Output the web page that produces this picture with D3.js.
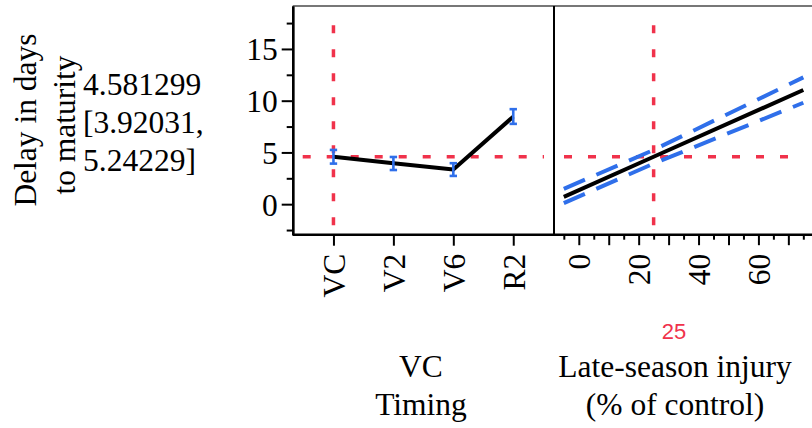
<!DOCTYPE html>
<html>
<head>
<meta charset="utf-8">
<script src="https://cdn.jsdelivr.net/npm/d3@7/dist/d3.min.js"></script>
<style>
  html, body { margin: 0; padding: 0; background: #fff; }
  svg { display: block; }
  text { font-family: "Liberation Serif", "Times New Roman", serif; }
</style>
</head>
<body>
<svg id="chart" width="812" height="428"></svg>
<script>
// Prediction profiler: delay in days to maturity by injury timing and late-season injury level

// Factor 1: injury timing (categorical)
const timing = ["VC", "V2", "V6", "R2"];
const timingDelay = [4.581299, 3.95, 3.34, 8.46];
const timingLower = [3.92031, 3.30, 2.73, 7.76];
const timingUpper = [5.24229, 4.56, 3.96, 9.18];

// Factor 2: late-season injury (% of control), fitted line with confidence band
const injury = [-5, 25, 75];
const injuryDelay = [0.71, 4.581299, 11.03];
const injuryLower = [0.10, 3.92031, 9.80];
const injuryUpper = [1.48, 5.24229, 12.25];

// Current settings and predicted response
const currentTiming = "VC";
const currentInjury = 25;
const currentValue = 4.581299;
const currentCI = [3.92031, 5.24229];

// Axis ticks
const yMajorTicks = [0, 5, 10, 15];
const yMinorTicks = [-2.5, 2.5, 7.5, 12.5, 17.5];
const injuryLabelTicks = [0, 20, 40, 60];
const injuryMajorTicks = [0, 10, 20, 30, 40, 50, 60, 70];
const injuryMinorTicks = [-5, 5, 15, 25, 35, 45, 55, 65, 75];

const RED = "#f0324b";
const BLUE = "#2f6fea";
const FONT = 31.5;

const svg = d3.select("#chart");

const plotTop = 6, plotBottom = 234.7;
const p1 = { left: 292.7, right: 554 };
const p2 = { left: 554, right: 813.5 };

const y = d3.scaleLinear().domain([-2.95, 19.15]).range([plotBottom, plotTop]);
const xT = d3.scalePoint().domain(timing).range([p1.left, p1.right]).padding(0.68);
const xI = d3.scaleLinear().domain([-8.28, 78.4]).range([p2.left, p2.right]);

// ----- reference lines at the current settings -----
function refLines(left, right, xPos) {
  svg.append("line")
    .attr("x1", left + 10).attr("x2", right - 10)
    .attr("y1", y(currentValue)).attr("y2", y(currentValue))
    .attr("stroke", RED).attr("stroke-width", 3.5).attr("stroke-dasharray", "8,16");
  svg.append("line")
    .attr("x1", xPos).attr("x2", xPos)
    .attr("y1", plotBottom - 9.5).attr("y2", plotTop + 11)
    .attr("stroke", RED).attr("stroke-width", 3.5).attr("stroke-dasharray", "8,16");
}
refLines(p1.left, p1.right, xT(currentTiming));
refLines(p2.left, p2.right, xI(currentInjury));

// ----- panel 1: timing profile -----
const timingData = timing.map((t, i) => ({ t, v: timingDelay[i], lo: timingLower[i], hi: timingUpper[i] }));

svg.append("path")
  .datum(timingData)
  .attr("fill", "none").attr("stroke", "#000").attr("stroke-width", 4)
  .attr("stroke-linejoin", "round")
  .attr("d", d3.line().x(d => xT(d.t)).y(d => y(d.v)));

const bars = svg.append("g").attr("stroke", BLUE).attr("stroke-width", 2.6);
timingData.forEach(d => {
  const cx = xT(d.t);
  bars.append("line").attr("x1", cx).attr("x2", cx).attr("y1", y(d.lo)).attr("y2", y(d.hi));
  bars.append("line").attr("x1", cx - 3.7).attr("x2", cx + 3.7).attr("y1", y(d.lo)).attr("y2", y(d.lo));
  bars.append("line").attr("x1", cx - 3.7).attr("x2", cx + 3.7).attr("y1", y(d.hi)).attr("y2", y(d.hi));
});

// ----- panel 2: late-season injury profile -----
const injData = injury.map((x, i) => ({ x, v: injuryDelay[i], lo: injuryLower[i], hi: injuryUpper[i] }));

["lo", "hi"].forEach(k => {
  svg.append("path")
    .datum(injData)
    .attr("fill", "none").attr("stroke", BLUE).attr("stroke-width", 4)
    .attr("stroke-dasharray", "23,12.5")
    .attr("d", d3.line().x(d => xI(d.x)).y(d => y(d[k])));
});
svg.append("path")
  .datum(injData)
  .attr("fill", "none").attr("stroke", "#000").attr("stroke-width", 4)
  .attr("d", d3.line().x(d => xI(d.x)).y(d => y(d.v)));

// ----- frame -----
svg.append("line").attr("x1", p1.left).attr("x2", p2.right).attr("y1", plotTop).attr("y2", plotTop)
  .attr("stroke", "#777").attr("stroke-width", 2);
svg.append("line").attr("x1", p1.right).attr("x2", p1.right).attr("y1", plotTop).attr("y2", plotBottom + 1)
  .attr("stroke", "#000").attr("stroke-width", 2);
svg.append("line").attr("x1", p2.right).attr("x2", p2.right).attr("y1", plotTop).attr("y2", plotBottom)
  .attr("stroke", "#000").attr("stroke-width", 2);

// ----- y axis -----
function styleAxis(g) {
  g.selectAll("path.domain").attr("stroke", "#000").attr("stroke-width", 2.4);
  g.selectAll(".tick line").attr("stroke", "#000").attr("stroke-width", 2);
  g.selectAll("text")
    .style("font-family", '"Liberation Serif", "Times New Roman", serif')
    .style("font-size", FONT + "px").style("fill", "#000");
}

svg.append("g")
  .attr("transform", `translate(${p1.left},0)`)
  .call(d3.axisLeft(y).tickValues(yMinorTicks).tickSize(6).tickFormat("").tickSizeOuter(0))
  .call(styleAxis);
svg.append("g")
  .attr("transform", `translate(${p1.left},0)`)
  .call(d3.axisLeft(y).tickValues(yMajorTicks).tickSize(11).tickPadding(4).tickSizeOuter(0))
  .call(styleAxis)
  .call(g => g.selectAll("text").attr("dy", "0.35em"));

// ----- x axis, panel 1 -----
svg.append("g")
  .attr("transform", `translate(0,${plotBottom})`)
  .call(d3.axisBottom(xT).tickSize(11).tickSizeOuter(0))
  .call(styleAxis)
  .call(g => g.select("path.domain").attr("d", `M${p1.left},0H${p1.right}`))
  .call(g => g.selectAll("text")
    .attr("transform", "rotate(-90)")
    .attr("x", -19).attr("y", 0).attr("dy", "0.35em")
    .style("text-anchor", "end"));

// ----- x axis, panel 2 -----
svg.append("g")
  .attr("transform", `translate(0,${plotBottom})`)
  .call(d3.axisBottom(xI).tickValues(injuryMinorTicks).tickSize(5).tickFormat("").tickSizeOuter(0))
  .call(styleAxis)
  .call(g => g.select("path.domain").attr("d", `M${p2.left},0H${p2.right}`));
svg.append("g")
  .attr("transform", `translate(0,${plotBottom})`)
  .call(d3.axisBottom(xI).tickValues(injuryMajorTicks).tickSize(10.5)
    .tickFormat(d => injuryLabelTicks.includes(d) ? d : "").tickSizeOuter(0))
  .call(styleAxis)
  .call(g => g.select("path.domain").remove())
  .call(g => g.selectAll("text")
    .attr("transform", "rotate(-90)")
    .attr("x", -19).attr("y", 0).attr("dy", "0.35em")
    .style("text-anchor", "end"));

// ----- factor labels -----
svg.append("text")
  .attr("x", 674).attr("y", 339)
  .attr("text-anchor", "middle")
  .style("font-family", '"Liberation Sans", Arial, sans-serif')
  .style("font-size", "22px")
  .style("fill", RED)
  .text(currentInjury);

function centered(x, yPos, txt) {
  svg.append("text").attr("x", x).attr("y", yPos).attr("text-anchor", "middle")
    .style("font-size", FONT + "px").style("fill", "#000").text(txt);
}
centered(421, 377, currentTiming);
centered(421, 415, "Timing");
centered(675, 377, "Late-season injury");
centered(675, 415, "(% of control)");

// ----- response label and current prediction -----
svg.append("text")
  .attr("transform", "translate(36,120) rotate(-90)")
  .attr("text-anchor", "middle")
  .style("font-size", FONT + "px").style("fill", "#000")
  .text("Delay in days");
svg.append("text")
  .attr("transform", "translate(74.5,125) rotate(-90)")
  .attr("text-anchor", "middle")
  .style("font-size", FONT + "px").style("fill", "#000")
  .text("to maturity");

const valueLines = [`${currentValue}`, `[${currentCI[0]},`, `${currentCI[1]}]`];
svg.append("g").selectAll("text")
  .data(valueLines)
  .join("text")
  .attr("x", 83)
  .attr("y", (d, i) => 94.5 + i * 38)
  .style("font-size", FONT + "px").style("fill", "#000")
  .text(d => d);
</script>
</body>
</html>
